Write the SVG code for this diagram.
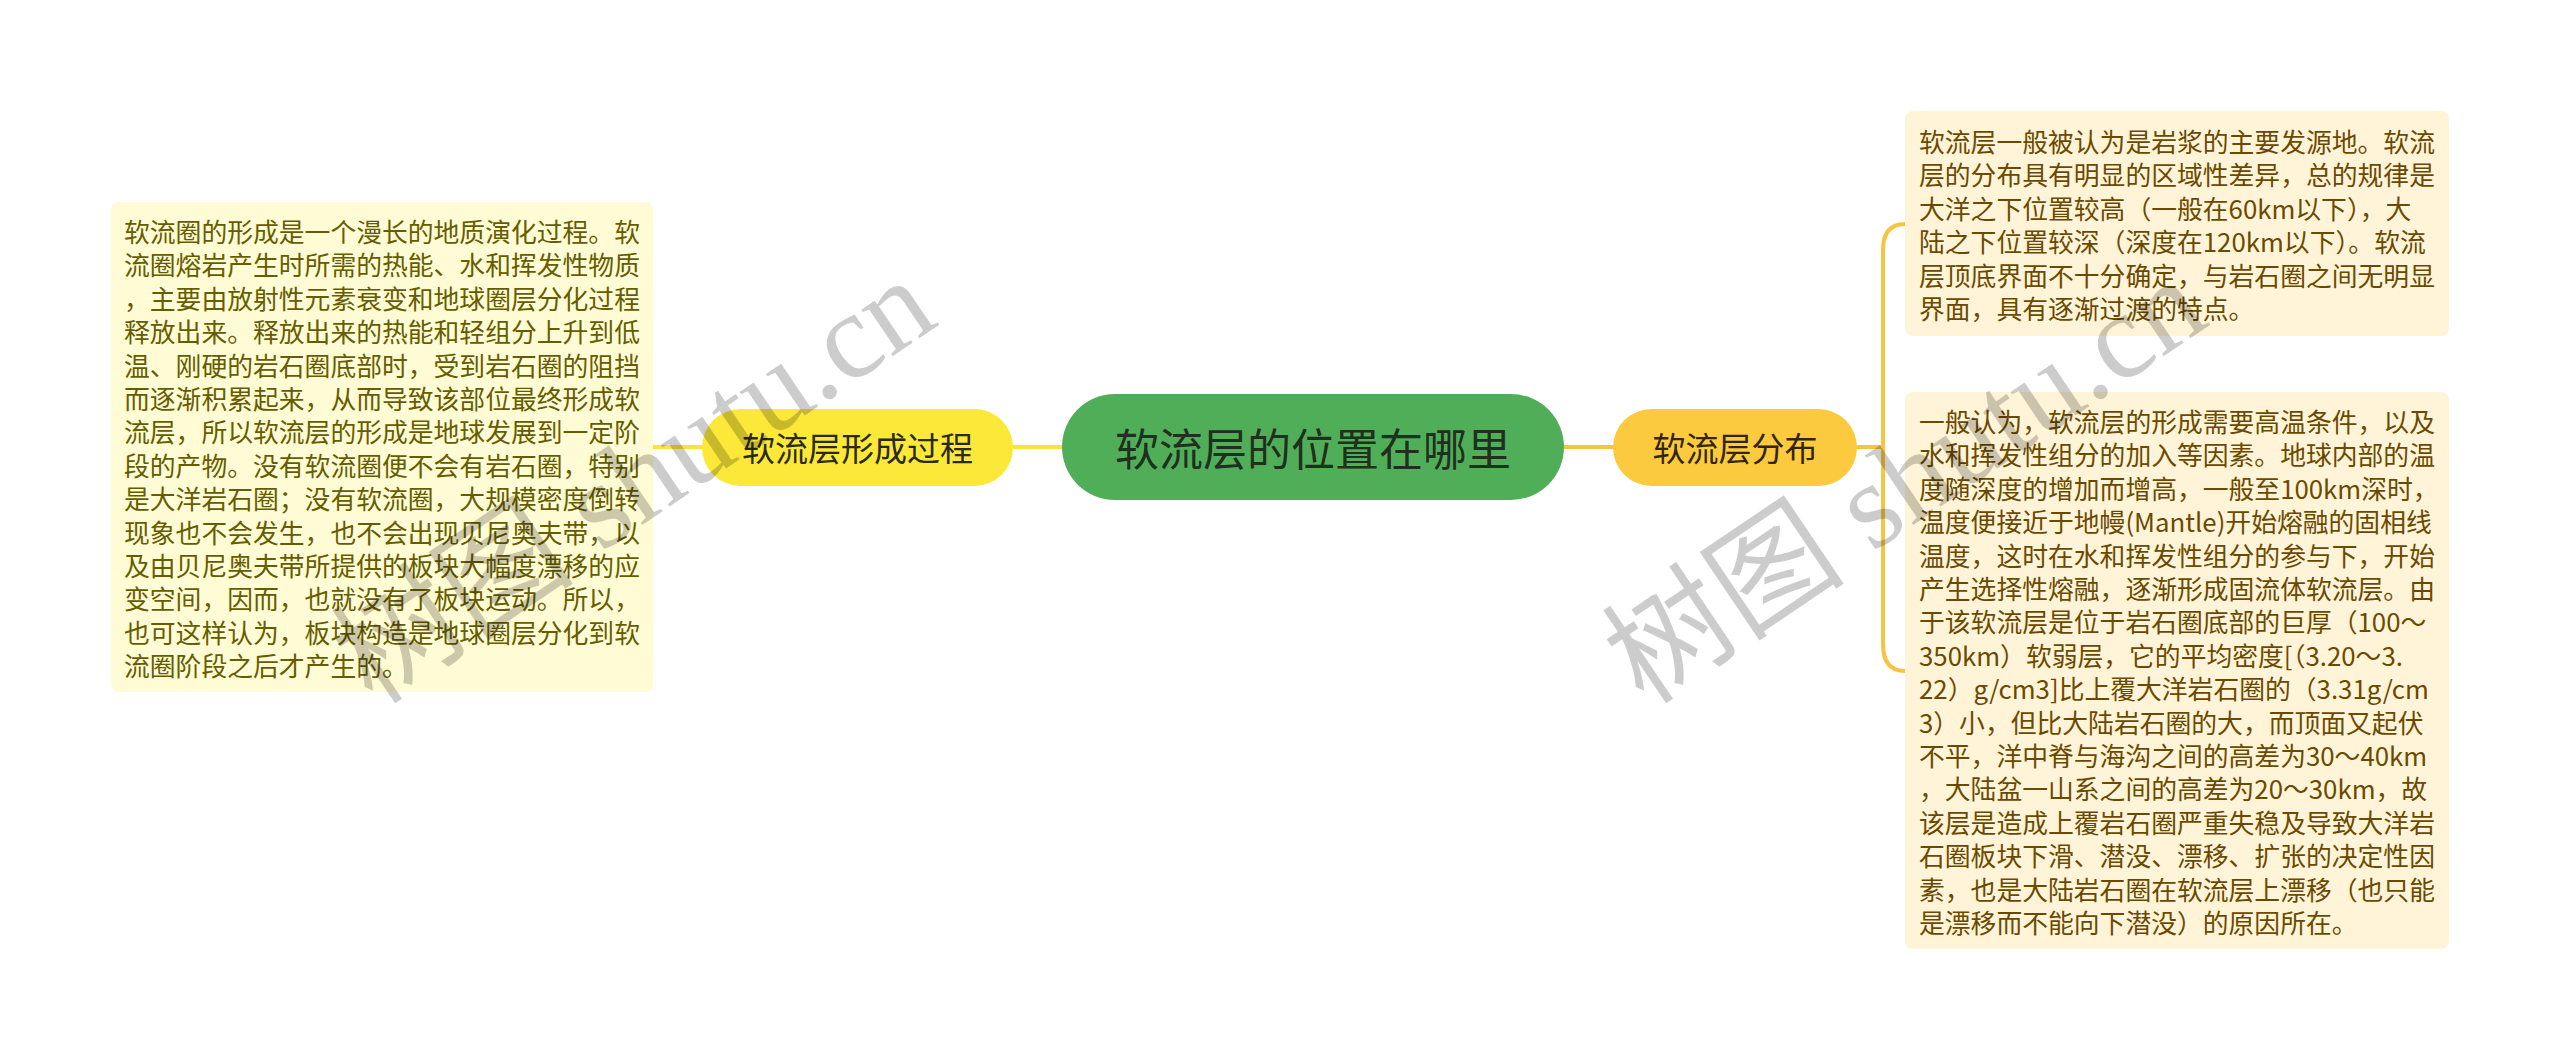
<svg xmlns="http://www.w3.org/2000/svg" width="2560" height="1062" viewBox="0 0 2560 1062">
<style>
.t{font-family:"Noto Sans CJK SC","Noto Sans",sans-serif;dominant-baseline:central}
.body{font-size:25.8px}
.lt{fill:#665d00}
.rt{fill:#6b4a00}
.conn{fill:none;stroke-width:4;stroke-linecap:round}
.wm{font-family:"Liberation Serif","Noto Sans CJK SC",serif;font-size:122px;fill:#000;fill-opacity:0.2}
</style>
<rect width="2560" height="1062" fill="#ffffff"/>
<g id="connectors">
<path class="conn" stroke="#f8e43c" d="M653 447 L702 447"/>
<path class="conn" stroke="#f8e43c" d="M1013 447 L1062 447"/>
<path class="conn" stroke="#f7c342" d="M1564 447 L1613 447"/>
<path class="conn" stroke="#f7c342" d="M1857 447 L1883 447"/>
<path class="conn" stroke="#f7c342" d="M1883 447 L1883 250 Q1883 224 1905 224"/>
<path class="conn" stroke="#f7c342" d="M1883 447 L1883 644 Q1883 671 1905 671"/>
</g>
<g id="node-root">
<rect x="1062" y="394" width="502" height="106" rx="53" fill="#51ae58"/>
<text class="t" x="1313" y="447" font-size="44" fill="#1f301f" text-anchor="middle">软流层的位置在哪里</text>
</g>
<g id="node-left">
<rect x="702" y="409" width="311" height="77" rx="38.5" fill="#fbe838"/>
<text class="t" x="857.5" y="447" font-size="33" fill="#2a2a10" text-anchor="middle">软流层形成过程</text>
</g>
<g id="node-right">
<rect x="1613" y="409" width="244" height="77" rx="38.5" fill="#fcca3e"/>
<text class="t" x="1735" y="447" font-size="33" fill="#32250a" text-anchor="middle">软流层分布</text>
</g>
<g id="box-left">
<rect x="111" y="202" width="542" height="490" rx="8" fill="#fffbd4"/>
<text class="t body lt">
<tspan x="124" y="230">软流圈的形成是一个漫长的地质演化过程。软</tspan>
<tspan x="124" y="263.4">流圈熔岩产生时所需的热能、水和挥发性物质</tspan>
<tspan x="124" y="296.8">，主要由放射性元素衰变和地球圈层分化过程</tspan>
<tspan x="124" y="330.2">释放出来。释放出来的热能和轻组分上升到低</tspan>
<tspan x="124" y="363.6">温、刚硬的岩石圈底部时，受到岩石圈的阻挡</tspan>
<tspan x="124" y="397">而逐渐积累起来，从而导致该部位最终形成软</tspan>
<tspan x="124" y="430.4">流层，所以软流层的形成是地球发展到一定阶</tspan>
<tspan x="124" y="463.8">段的产物。没有软流圈便不会有岩石圈，特别</tspan>
<tspan x="124" y="497.2">是大洋岩石圈；没有软流圈，大规模密度倒转</tspan>
<tspan x="124" y="530.6">现象也不会发生，也不会出现贝尼奥夫带，以</tspan>
<tspan x="124" y="564">及由贝尼奥夫带所提供的板块大幅度漂移的应</tspan>
<tspan x="124" y="597.4">变空间，因而，也就没有了板块运动。所以，</tspan>
<tspan x="124" y="630.8">也可这样认为，板块构造是地球圈层分化到软</tspan>
<tspan x="124" y="664.2">流圈阶段之后才产生的。</tspan>
</text>
</g>
<g id="box-right-1">
<rect x="1905" y="111" width="544" height="225" rx="8" fill="#fff4d8"/>
<text class="t body rt">
<tspan x="1919" y="140">软流层一般被认为是岩浆的主要发源地。软流</tspan>
<tspan x="1919" y="173.4">层的分布具有明显的区域性差异，总的规律是</tspan>
<tspan x="1919" y="206.8">大洋之下位置较高（一般在60km以下），大</tspan>
<tspan x="1919" y="240.2">陆之下位置较深（深度在120km以下）。软流</tspan>
<tspan x="1919" y="273.6">层顶底界面不十分确定，与岩石圈之间无明显</tspan>
<tspan x="1919" y="307">界面，具有逐渐过渡的特点。</tspan>
</text>
</g>
<g id="box-right-2">
<rect x="1905" y="392" width="544" height="557" rx="8" fill="#fff4d8"/>
<text class="t body rt">
<tspan x="1919" y="420">一般认为，软流层的形成需要高温条件，以及</tspan>
<tspan x="1919" y="453.4">水和挥发性组分的加入等因素。地球内部的温</tspan>
<tspan x="1919" y="486.8">度随深度的增加而增高，一般至100km深时，</tspan>
<tspan x="1919" y="520.2">温度便接近于地幔(Mantle)开始熔融的固相线</tspan>
<tspan x="1919" y="553.6">温度，这时在水和挥发性组分的参与下，开始</tspan>
<tspan x="1919" y="587">产生选择性熔融，逐渐形成固流体软流层。由</tspan>
<tspan x="1919" y="620.4">于该软流层是位于岩石圈底部的巨厚（100～</tspan>
<tspan x="1919" y="653.8">350km）软弱层，它的平均密度[（3.20～3.</tspan>
<tspan x="1919" y="687.2">22）g/cm3]比上覆大洋岩石圈的（3.31g/cm</tspan>
<tspan x="1919" y="720.6">3）小，但比大陆岩石圈的大，而顶面又起伏</tspan>
<tspan x="1919" y="754">不平，洋中脊与海沟之间的高差为30～40km</tspan>
<tspan x="1919" y="787.4">，大陆盆一山系之间的高差为20～30km，故</tspan>
<tspan x="1919" y="820.8">该层是造成上覆岩石圈严重失稳及导致大洋岩</tspan>
<tspan x="1919" y="854.2">石圈板块下滑、潜没、漂移、扩张的决定性因</tspan>
<tspan x="1919" y="887.6">素，也是大陆岩石圈在软流层上漂移（也只能</tspan>
<tspan x="1919" y="921">是漂移而不能向下潜没）的原因所在。</tspan>
</text>
</g>
<g id="watermarks">
<text class="wm" x="0" y="0" text-anchor="middle" transform="translate(657 515) rotate(-34)">树图 shutu.cn</text>
<text class="wm" x="0" y="0" text-anchor="middle" transform="translate(1928 515) rotate(-34)">树图 shutu.cn</text>
</g>
</svg>
